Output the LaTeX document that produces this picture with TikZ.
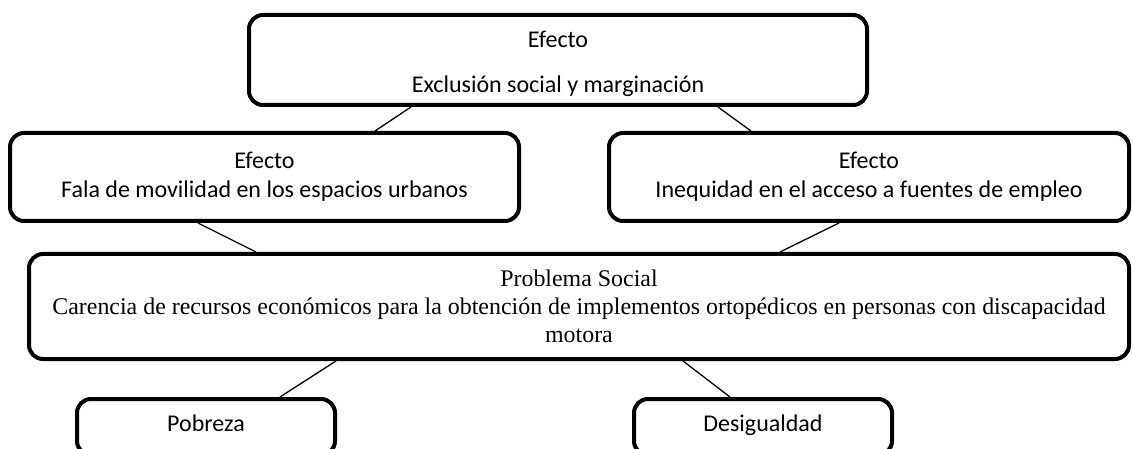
\documentclass[tikz,border=0pt]{standalone}
\usepackage{fontspec}
\setmainfont{Carlito}
\newfontfamily\tnr{Liberation Serif}
\usepackage{tikz}
\tikzstyle{caja}=[draw, line width=4pt, rounded corners=14pt, inner sep=0pt, align=center, font=\fontsize{24}{29}\selectfont]
\tikzstyle{hoja}=[caja, minimum width=258pt, minimum height=56pt, text height=19pt, text depth=11pt]
\tikzstyle{liga}=[line width=1.3pt]
\newcommand{\caja}{\node[caja]}

\begin{document}
\begin{tikzpicture}[x=1pt,y=-1pt]
\useasboundingbox (0,0) rectangle (1133,449);
\caja[minimum width=618pt, minimum height=90pt] (ef0) at (558,60){\rule{0pt}{24pt}Efecto\\[16pt]Exclusión social y marginación};
\caja[minimum width=509pt, minimum height=88pt] (ef1) at (264.5,177){Efecto\\Fala de movilidad en los espacios urbanos};
\caja[minimum width=520pt, minimum height=88pt] (ef2) at (869,177){Efecto\\Inequidad en el acceso a fuentes de empleo};
\caja[minimum width=1100pt, minimum height=105pt, font=\tnr\fontsize{23.9}{28}\selectfont] (prob) at (579,306.5){Problema Social\\Carencia de recursos económicos para la obtención de implementos ortopédicos en personas con discapacidad\\motora};
\node[hoja] (pob) at (206,427){Pobreza};
\node[hoja] (des) at (763,427){Desigualdad};
\draw[liga] ([xshift=-147pt]ef0.south)--([xshift=110.5pt]ef1.north);
\draw[liga] ([xshift=160pt]ef0.south)--([xshift=-118pt]ef2.north);
\draw[liga] ([xshift=-66.5pt]ef1.south)--([xshift=-323pt]prob.north);
\draw[liga] ([xshift=-30pt]ef2.south)--([xshift=201pt]prob.north);
\draw[liga] ([xshift=-243pt]prob.south)--([xshift=74pt]pob.north);
\draw[liga] ([xshift=104pt]prob.south)--([xshift=-33pt]des.north);
\end{tikzpicture}
\end{document}
